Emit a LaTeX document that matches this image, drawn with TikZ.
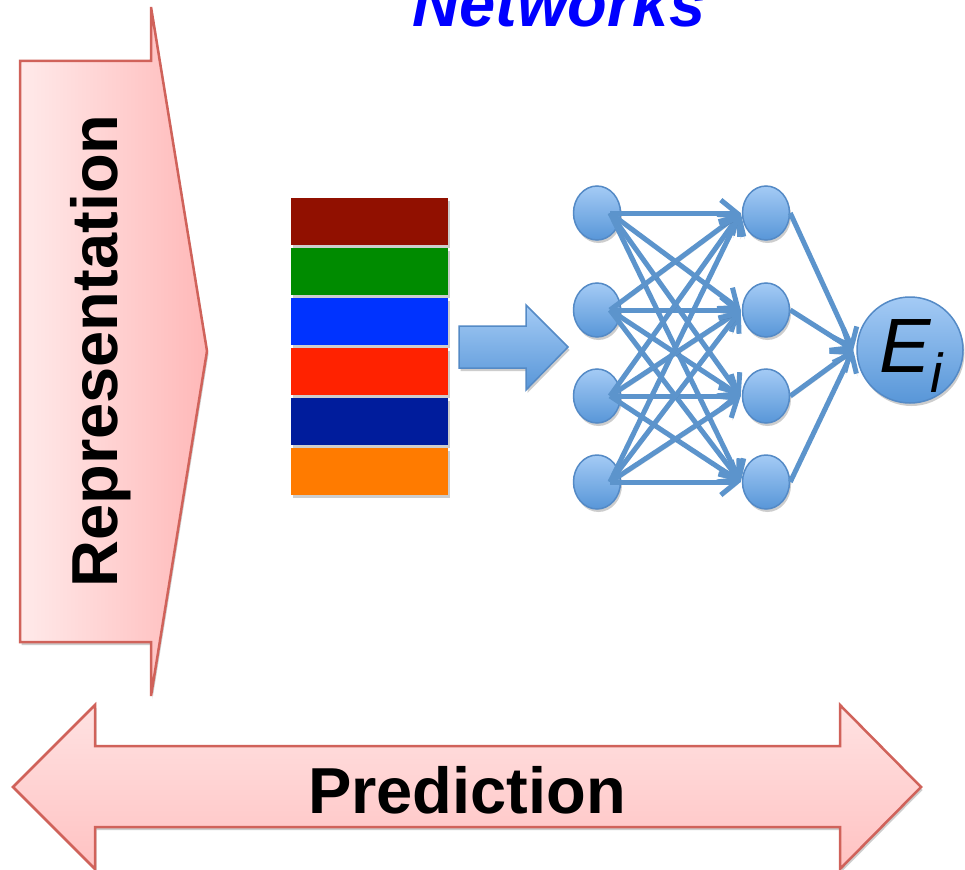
\documentclass[tikz,border=0pt]{standalone}
\usepackage{fontspec}
\newfontfamily\arialfont{Liberation Sans}
\usetikzlibrary{arrows.meta,shapes.geometric,shadows}

\definecolor{pinkline}{RGB}{208,98,90}
\definecolor{pinklight}{RGB}{255,234,234}
\definecolor{pinkdark}{RGB}{255,184,184}
\definecolor{pinktop}{RGB}{255,226,226}
\definecolor{pinkbot}{RGB}{255,194,194}
\definecolor{nodetop}{RGB}{164,203,245}
\definecolor{nodebot}{RGB}{88,150,216}
\definecolor{nodeline}{RGB}{84,138,198}
\definecolor{edgeblue}{RGB}{92,148,204}
\definecolor{netblue}{RGB}{0,0,255}
\definecolor{barA}{RGB}{145,16,0}
\definecolor{barB}{RGB}{0,139,0}
\definecolor{barC}{RGB}{0,51,255}
\definecolor{barD}{RGB}{255,34,0}
\definecolor{barE}{RGB}{0,28,156}
\definecolor{barF}{RGB}{255,123,0}

\tikzset{
  softshadow/.style={drop shadow={shadow xshift=1.5pt, shadow yshift=-3pt, opacity=0.28, fill=black!70}},
  bigarrow/.style={draw=pinkline, line width=2.5pt, line join=miter, softshadow},
  neuron/.style={ellipse, draw=nodeline, line width=1.5pt, top color=nodetop, bottom color=nodebot,
    minimum width=47pt, minimum height=54pt, inner sep=0pt, softshadow},
  edge/.style={draw=edgeblue, line width=5pt, -{Straight Barb[length=16pt,width=26pt]},
    preaction={draw=black, opacity=0.12, transform canvas={xshift=1pt, yshift=-2.5pt}}},
  bar/.style={rectangle, inner sep=0pt, minimum width=157pt, minimum height=47pt, softshadow},
  bigtext/.style={font=\arialfont\bfseries\fontsize{65}{78}\selectfont, inner sep=0pt}
}

\begin{document}
\begin{tikzpicture}[x=1pt,y=-1pt]
\clip (0,0) rectangle (965,869);
\fill[white] (0,0) rectangle (965,869);

% title word, cut by the top edge
\node[bigtext, font=\arialfont\bfseries\itshape\fontsize{65}{78}\selectfont, text=netblue, anchor=base] (title) at (559,27) {Networks};

% vertical "Representation" arrow
\path[bigarrow, left color=pinklight, right color=pinkdark]
  (20,61) -- (151,61) -- (151,7) -- (207,351) -- (151,696) -- (151,642) -- (20,642) -- cycle;
\node[bigtext, rotate=90, anchor=base] (rep) at (117,351) {Representation};

% horizontal "Prediction" double arrow
\path[bigarrow, top color=pinktop, bottom color=pinkbot]
  (13,787) -- (95,705) -- (95,746) -- (840,746) -- (840,705) -- (921,787)
  -- (840,869) -- (840,827) -- (95,827) -- (95,869) -- cycle;
\node[bigtext, anchor=base] (pred) at (467,813) {Prediction};

% stacked feature bars
\node[bar, fill=barA] (b1) at (369.5,221.5) {};
\node[bar, fill=barB] (b2) at (369.5,271.5) {};
\node[bar, fill=barC] (b3) at (369.5,321.5) {};
\node[bar, fill=barD] (b4) at (369.5,371.5) {};
\node[bar, fill=barE] (b5) at (369.5,421.5) {};
\node[bar, fill=barF] (b6) at (369.5,471.5) {};

% block arrow into the network
\path[draw=nodeline, line width=1.5pt, top color=nodetop, bottom color=nodebot, softshadow]
  (459,326) -- (526,326) -- (526,305) -- (568,347) -- (526,390) -- (526,368) -- (459,368) -- cycle;

% network layers
\foreach \k/\yy in {1/213,2/310,3/396,4/482}{
  \node[neuron] (i\k) at (597,\yy) {};
  \node[neuron] (h\k) at (766,\yy) {};
}
\node[neuron, minimum width=106pt, minimum height=106pt] (o) at (910,350) {};
\node[anchor=base west, inner sep=0pt] (olabel) at (879,372)
  {\arialfont\itshape\fontsize{77}{80}\selectfont E\raisebox{-20pt}{\fontsize{55}{60}\selectfont i}};

% connections
\foreach \a in {1,...,4}{
  \foreach \b in {1,...,4}{
    \draw[edge] ([xshift=13pt]i\a.center) -- ([xshift=-1pt]h\b.west);
  }
}
\foreach \b in {1,...,4}{
  \draw[edge] (h\b.east) -- ([xshift=-3pt]o.west);
}
\end{tikzpicture}
\end{document}
